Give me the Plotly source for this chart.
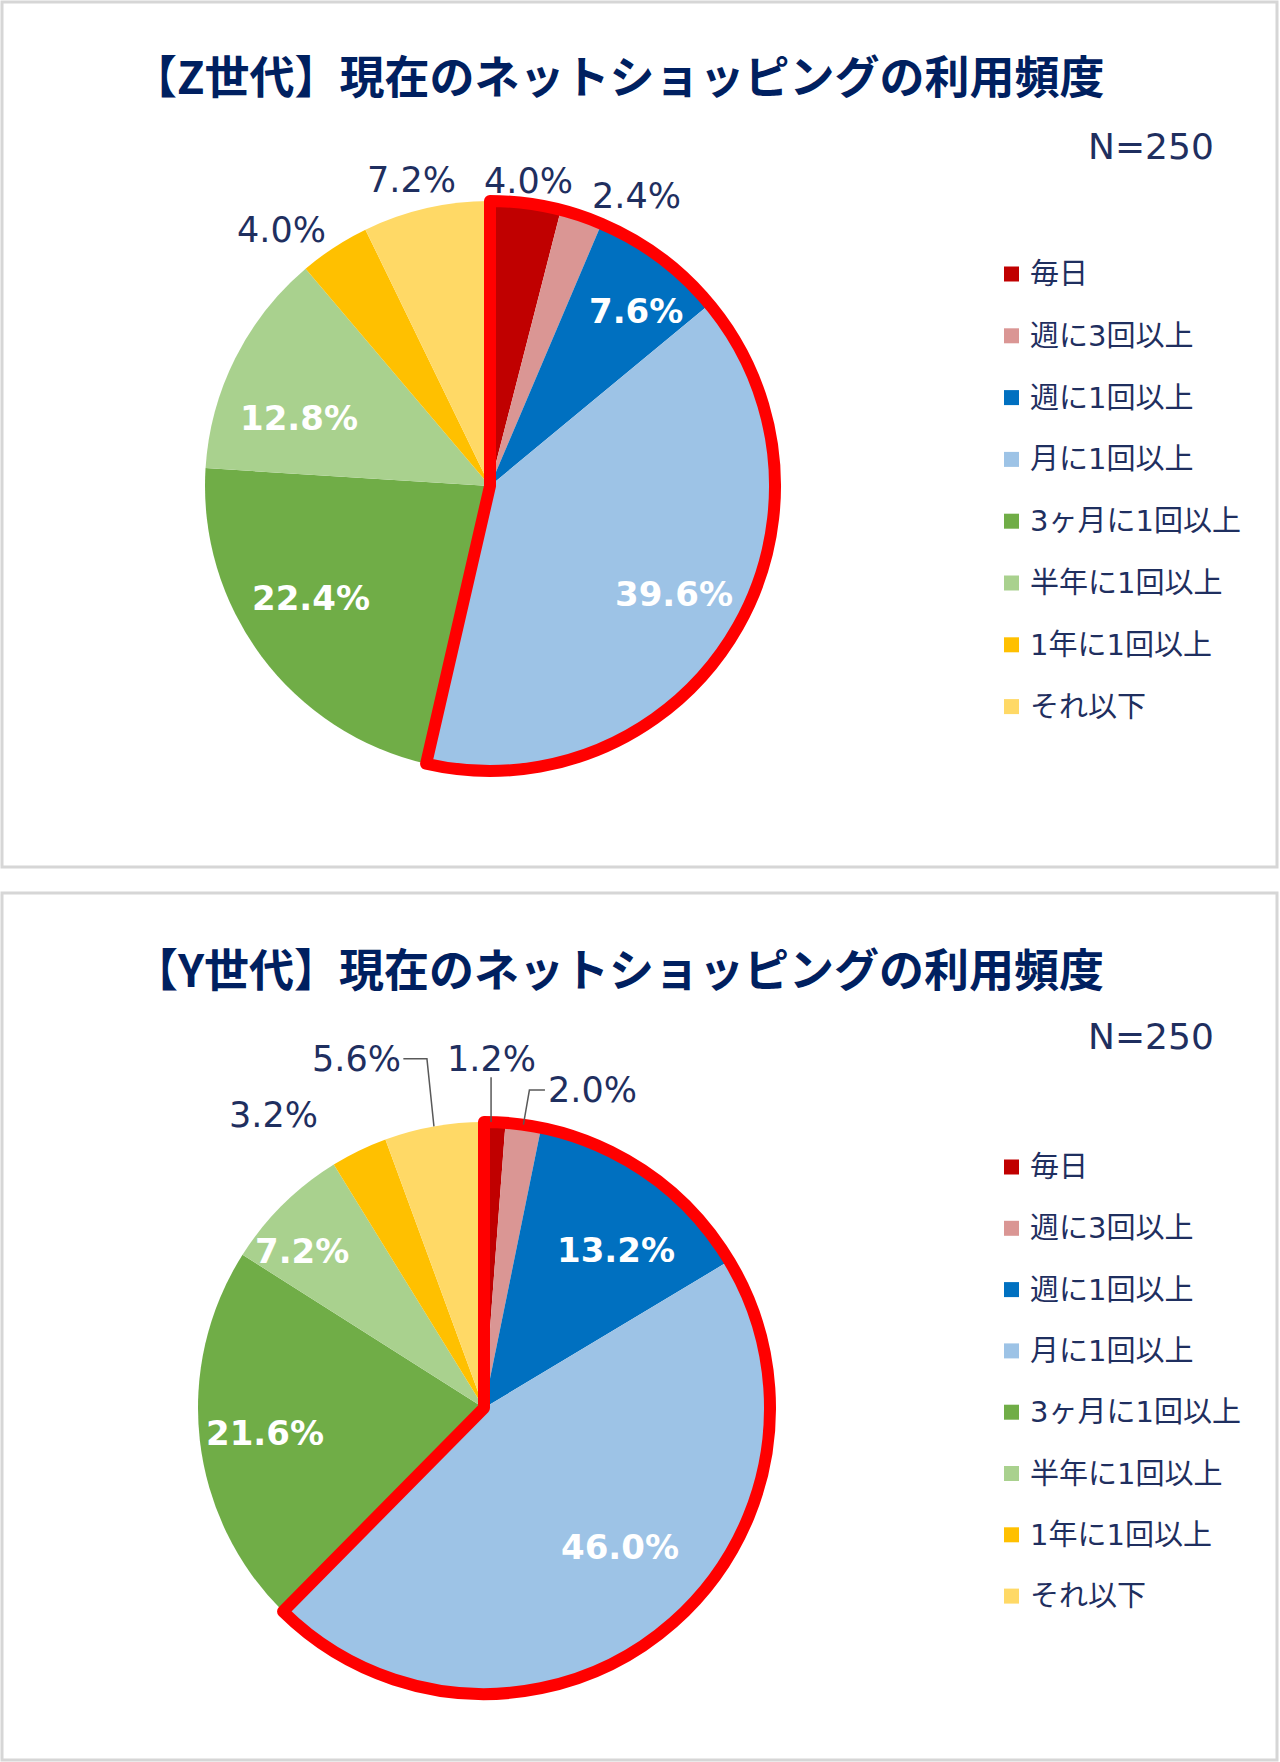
import math
import plotly.graph_objects as go

# ---------------- data ----------------
categories = ["毎日", "週に3回以上", "週に1回以上", "月に1回以上",
              "3ヶ月に1回以上", "半年に1回以上", "1年に1回以上", "それ以下"]
z_values = [4.0, 2.4, 7.6, 39.6, 22.4, 12.8, 4.0, 7.2]
y_values = [1.2, 2.0, 13.2, 46.0, 21.6, 7.2, 3.2, 5.6]
z_title = "【Z世代】現在のネットショッピングの利用頻度"
y_title = "【Y世代】現在のネットショッピングの利用頻度"
sample_text = "N=250"
highlight_n = 4  # first categories outlined in red

# ---------------- style ----------------
colors = ["#C00000", "#DA9694", "#0070C0", "#9DC3E6",
          "#70AD47", "#A9D18E", "#FFC000", "#FFD966"]
NAVY = "#002060"
TXT = "#1F2F5F"
W, H = 1280, 1762
LATIN_CJK = "DejaVu Sans, Noto Sans CJK JP, sans-serif"


def px(x):
    return x / W


def py(y):
    return 1 - y / H


panels = [
    dict(values=z_values, title=z_title, box=(2, 2, 1277, 867),
         center=(490, 486), r=285, title_y=74, n_y=146,
         legend_y0=274, legend_step=61.8,
         k=[1.08, 1.14, 0.80, 0.75, 0.74, 0.71, 1.16, 1.11],
         da=[0, 8, 3, -1.3, 4.7, -7, -6, -1.5],
         inside=[False, False, True, True, True, True, False, False],
         leaders={}),
    dict(values=y_values, title=y_title, box=(2, 893, 1277, 1760),
         center=(484, 1408), r=286, title_y=967, n_y=1036,
         legend_y0=1167, legend_step=61.3,
         k=[1.22, 1.175, 0.72, 0.68, 0.77, 0.84, 1.26, 1.30],
         da=[-1, 11, 4.6, -6.4, 0, -4.6, -9.8, -10],
         inside=[False, False, True, True, True, True, False, False],
         leaders={0: "up", 1: "left", 7: "right"}),
]

fig = go.Figure()
annotations = []
shapes = []

for p in panels:
    cx, cy = p["center"]
    r = p["r"]
    dom = dict(x=[px(cx - r), px(cx + r)], y=[py(cy + r), py(cy - r)])
    vals = p["values"]
    # main pie
    fig.add_trace(go.Pie(
        labels=categories, values=vals, sort=False, direction="clockwise",
        rotation=0, domain=dom, textinfo="none", showlegend=False,
        marker=dict(colors=colors, line=dict(width=0)),
        hoverinfo="label+value",
    ))
    # red outline of the highlighted group
    g = sum(vals[:highlight_n])
    rest = sum(vals[highlight_n:])
    fig.add_trace(go.Pie(
        labels=["hl", "rest"], values=[g, rest], sort=False,
        direction="clockwise", rotation=0, domain=dom, textinfo="none",
        showlegend=False, hoverinfo="skip",
        marker=dict(colors=["rgba(0,0,0,0)", "rgba(0,0,0,0)"],
                    line=dict(color=["#FF0000", "rgba(0,0,0,0)"], width=[12, 0])),
    ))

    # panel box
    x0, y0, x1, y1 = p["box"]
    shapes.append(dict(type="rect", xref="paper", yref="paper",
                       x0=px(x0), x1=px(x1), y0=py(y1), y1=py(y0),
                       line=dict(color="#D6D6D6", width=3), layer="below"))
    # title
    annotations.append(dict(text="<b>" + p["title"] + "</b>", x=px(618), y=py(p["title_y"]),
                            xref="paper", yref="paper", showarrow=False,
                            xanchor="center", yanchor="middle",
                            font=dict(family="Noto Sans CJK JP", size=45, color=NAVY)))
    # N
    annotations.append(dict(text=sample_text, x=px(1216), y=py(p["n_y"]),
                            xref="paper", yref="paper", showarrow=False,
                            xanchor="right", yanchor="middle",
                            font=dict(family=LATIN_CJK, size=36, color=TXT)))

    # percentage labels
    total = sum(vals)
    cum = 0.0
    for i, v in enumerate(vals):
        mid = (cum + v / 2) / total * 360
        cum += v
        a = math.radians(mid + p["da"][i])
        lx = cx + p["k"][i] * r * math.sin(a)
        ly = cy - p["k"][i] * r * math.cos(a)
        label = f"{v:.1f}%"
        if p["inside"][i]:
            txt = "<b>" + label + "</b>"
            font = dict(family="DejaVu Sans", size=34, color="white")
        else:
            txt = label
            font = dict(family="DejaVu Sans", size=35, color=TXT)
        annotations.append(dict(text=txt, x=px(lx), y=py(ly), xref="paper", yref="paper",
                                showarrow=False, xanchor="center", yanchor="middle", font=font))
        # leader lines
        kind = p["leaders"].get(i)
        if kind:
            am = math.radians(mid)
            ex = cx + r * math.sin(am)
            ey = cy - r * math.cos(am)
            if kind == "up":
                pts = [(lx, cy - math.sqrt(r * r - (lx - cx) ** 2)), (lx, ly + 18)]
            elif kind == "left":
                pts = [(ex, ey), (ex + 6, ly), (lx - 48, ly)]
            else:
                pts = [(ex, ey), (ex - 7, ly), (lx + 47, ly)]
            path = "M " + " L ".join(f"{px(x):.5f},{py(y):.5f}" for x, y in pts)
            shapes.append(dict(type="path", xref="paper", yref="paper", path=path,
                               line=dict(color="#595959", width=1.5)))

    # custom legend
    for i, cat in enumerate(categories):
        yy = p["legend_y0"] + i * p["legend_step"]
        shapes.append(dict(type="rect", xref="paper", yref="paper",
                           x0=px(1004), x1=px(1019), y0=py(yy + 7.5), y1=py(yy - 7.5),
                           line=dict(width=0), fillcolor=colors[i]))
        annotations.append(dict(text=cat, x=px(1028), y=py(yy), xref="paper", yref="paper",
                                showarrow=False, xanchor="left", yanchor="middle",
                                font=dict(family=LATIN_CJK, size=29, color=TXT)))

fig.update_layout(
    width=W, height=H,
    margin=dict(l=0, r=0, t=0, b=0),
    paper_bgcolor="white", plot_bgcolor="white",
    annotations=annotations, shapes=shapes,
    showlegend=False,
)

# remove the browser's default 8px body margin so the figure sits at (0,0)
fig.write_html("out.html", config={"displayModeBar": False},
               post_script="document.body.style.margin='0';")
